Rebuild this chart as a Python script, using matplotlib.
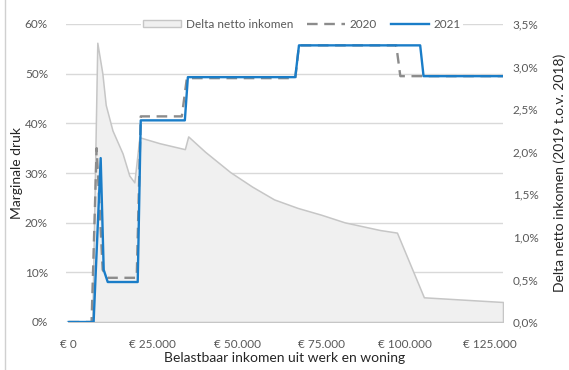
import numpy as np
import matplotlib
matplotlib.use('Agg')
import matplotlib.pyplot as plt
from matplotlib.lines import Line2D
from matplotlib.ticker import FuncFormatter, MultipleLocator

plt.rcParams['font.family'] = ['Lato', 'DejaVu Sans']

# delta netto inkomen 2019 t.o.v. 2018 (rechteras, in %)
delta_x = [0, 7000, 8500, 10000, 11000, 13000, 16000, 18000, 19500, 21000, 27000,
           34500, 35500, 40500, 48000, 54500, 61000, 68000, 75000, 82000, 92500,
           97500, 105500, 129000]
delta_y = [0.0, 0.0, 3.28, 2.92, 2.55, 2.25, 1.98, 1.72, 1.64, 2.17, 2.10,
           2.03, 2.18, 2.00, 1.76, 1.59, 1.44, 1.34, 1.26, 1.17, 1.08,
           1.05, 0.29, 0.235]

# marginale druk 2020 (linkeras, in %)
md2020_x = [0, 6800, 8300, 10100, 11600, 20200, 21400, 33600, 35100, 67300, 68400,
            97300, 98500, 129000]
md2020_y = [0.0, 0.0, 35.0, 10.5, 8.9, 8.9, 41.4, 41.4, 49.1, 49.1, 55.7,
            55.7, 49.5, 49.5]

# marginale druk 2021 (linkeras, in %)
md2021_x = [0, 7400, 9500, 10400, 11600, 20500, 21400, 34500, 35400, 67300, 68400,
            104400, 105400, 129000]
md2021_y = [0.0, 0.0, 33.0, 10.5, 8.05, 8.05, 40.6, 40.6, 49.3, 49.3, 55.7,
            55.7, 49.5, 49.5]

x_ticks = [0, 25000, 50000, 75000, 100000, 125000]

txt = '#595959'
grid = '#d9d9d9'
blue = '#1a7dc8'
dash = '#8c8c8c'

fig = plt.figure(figsize=(5.69, 3.70), dpi=100)
rect = [66 / 569, 48 / 370, 437 / 569, 298 / 370]

# left axis: gridlines and percentages
ax = fig.add_axes(rect)
ax.set_xlim(-800, 129000)
ax.set_ylim(0, 60)
ax.yaxis.set_major_locator(MultipleLocator(10))
ax.yaxis.set_major_formatter(FuncFormatter(lambda v, p: f'{v:.0f}%'))
ax.set_xticks(x_ticks)
ax.xaxis.set_major_formatter(
    FuncFormatter(lambda v, p: '€ ' + f'{v:,.0f}'.replace(',', '.')))
ax.grid(axis='y', color=grid, linewidth=1)
ax.set_axisbelow(True)
for s in ax.spines.values():
    s.set_visible(False)
ax.tick_params(length=0, labelsize=8.5, labelcolor=txt)
ax.tick_params(axis='y', pad=13)
ax.tick_params(axis='x', pad=12)
ax.set_ylabel('Marginale druk', fontsize=10, color='#262626', labelpad=1)
ax.set_xlabel('Belastbaar inkomen uit werk en woning', fontsize=10,
              color='#262626', labelpad=2)

# right axis: delta netto inkomen area
ax2 = ax.twinx()
ax2.set_ylim(0, 3.5)
ax2.yaxis.set_major_locator(MultipleLocator(0.5))
ax2.yaxis.set_major_formatter(
    FuncFormatter(lambda v, p: f'{v:.1f}%'.replace('.', ',')))
for s in ax2.spines.values():
    s.set_visible(False)
ax2.tick_params(length=0, labelsize=8.5, labelcolor=txt, pad=7)
ax2.set_ylabel('Delta netto inkomen (2019 t.o.v. 2018)', fontsize=10,
               color='#262626', labelpad=11)
ax2.fill_between(delta_x, delta_y, 0, facecolor='#f0f0f0',
                 edgecolor='#c6c6c6', linewidth=1.1)

# lines on top, sharing the left scale
ax3 = fig.add_axes(rect, sharex=ax, sharey=ax)
ax3.axis('off')
ax3.patch.set_visible(False)
ax3.plot(md2020_x, md2020_y, color=dash, linewidth=1.7, dashes=(4.5, 2.8))
ax3.plot(md2021_x, md2021_y, color=blue, linewidth=1.7)

handles = [
    plt.Rectangle((0, 0), 1, 1, facecolor='#f0f0f0', edgecolor='#c6c6c6', linewidth=1),
    Line2D([], [], color=dash, linewidth=1.7, dashes=(4.5, 2.8)),
    Line2D([], [], color=blue, linewidth=1.7),
]
leg = ax3.legend(handles, ['Delta netto inkomen', '2020', '2021'],
                 loc='center', bbox_to_anchor=(0.54, 1.0), ncol=3,
                 fontsize=8.5, frameon=True, handlelength=3.2, handleheight=0.6,
                 columnspacing=1.2, handletextpad=0.4, borderpad=0.2)
leg.get_frame().set_facecolor('white')
leg.get_frame().set_edgecolor('none')
leg.get_frame().set_alpha(1)
for t in leg.get_texts():
    t.set_color(txt)

# thin border on the left edge
fig.add_artist(Line2D([5 / 569, 5 / 569], [0, 1], color='#d0d0d0', linewidth=1))

fig.savefig('out.png', dpi=100)
